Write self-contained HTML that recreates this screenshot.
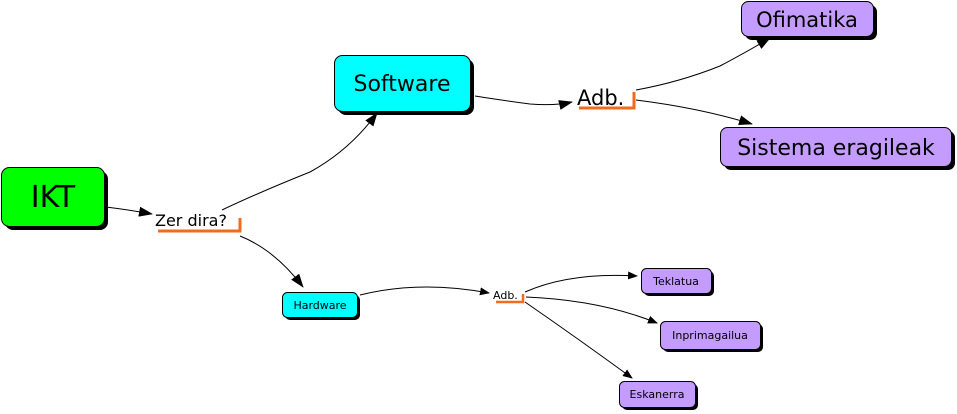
<!DOCTYPE html>
<html><head><meta charset="utf-8"><style>
html,body{margin:0;padding:0;background:#fff;}
svg{display:block;}
text{font-family:"DejaVu Sans","Liberation Sans",sans-serif;fill:#000;}
</style></head><body>
<svg width="957" height="414" viewBox="0 0 957 414" xmlns="http://www.w3.org/2000/svg">
<defs>
<marker id="a" markerWidth="10" markerHeight="8" refX="9" refY="4" orient="auto" markerUnits="userSpaceOnUse">
<path d="M0,0 L10,4 L0,8 Z" fill="#000"/></marker>
<marker id="b" markerWidth="14" markerHeight="10" refX="13" refY="5" orient="auto" markerUnits="userSpaceOnUse">
<path d="M0,0 L14,5 L0,10 Z" fill="#000"/></marker>
</defs>
<g fill="none" stroke="#000" stroke-width="1">
<path d="M106,207 Q130,210 152,214" marker-end="url(#b)"/>
<path d="M222,210 Q260,192 310,172 Q350,150 377,113" marker-end="url(#b)"/>
<path d="M240,236 Q275,250 303,287" marker-end="url(#b)"/>
<path d="M475,96 Q500,100 530,104 Q555,106 572,102" marker-end="url(#b)"/>
<path d="M636,90 Q680,82 720,66 Q750,50 770,38" marker-end="url(#b)"/>
<path d="M636,100 Q700,108 752,124" marker-end="url(#b)"/>
<path d="M360,295 Q420,280 489,293" marker-end="url(#a)"/>
<path d="M525,292 Q570,272 637,276" marker-end="url(#a)"/>
<path d="M526,297 Q600,300 657,323" marker-end="url(#a)"/>
<path d="M525,302 Q580,340 632,378" marker-end="url(#a)"/>
</g>
<!-- shadows -->
<g fill="#000">
<rect x="5" y="171" width="103" height="59" rx="8"/>
<rect x="338" y="59" width="136" height="56" rx="8"/>
<rect x="745" y="5" width="132" height="35" rx="7"/>
<rect x="724" y="131" width="231" height="39" rx="7"/>
<rect x="285" y="295" width="75" height="25" rx="5"/>
<rect x="644" y="271" width="70" height="25" rx="5"/>
<rect x="663" y="324" width="100" height="28" rx="5"/>
<rect x="622" y="384" width="76" height="26" rx="5"/>
</g>
<g stroke="#000" stroke-width="1">
<rect x="1.5" y="167.5" width="103" height="59" rx="8" fill="#00ff00"/>
<rect x="334.5" y="55.5" width="136" height="56" rx="8" fill="#00ffff"/>
<rect x="741.5" y="1.5" width="132" height="35" rx="7" fill="#c49cff"/>
<rect x="720.5" y="127.5" width="231" height="39" rx="7" fill="#c49cff"/>
<rect x="282.5" y="292.5" width="75" height="25" rx="5" fill="#00ffff"/>
<rect x="641.5" y="268.5" width="70" height="25" rx="5" fill="#c49cff"/>
<rect x="660.5" y="321.5" width="100" height="28" rx="5" fill="#c49cff"/>
<rect x="619.5" y="381.5" width="76" height="26" rx="5" fill="#c49cff"/>
</g>
<g text-anchor="middle">
<text x="53" y="207" font-size="30">IKT</text>
<text x="402" y="91" font-size="22">Software</text>
<text x="807" y="27" font-size="21">Ofimatika</text>
<text x="836" y="155" font-size="22">Sistema eragileak</text>
<text x="320" y="309" font-size="11">Hardware</text>
<text x="676" y="285" font-size="11">Teklatua</text>
<text x="710" y="339" font-size="11">Inprimagailua</text>
<text x="657" y="398" font-size="11">Eskanerra</text>
</g>
<text x="155" y="226" font-size="16">Zer dira?</text>
<text x="577" y="105" font-size="21">Adb.</text>
<text x="493" y="299" font-size="11">Adb.</text>
<g fill="none" stroke="#f26b1d" stroke-width="3">
<path d="M158,231 L240,231 L240,218"/>
<path d="M579,108 L634,108 L634,92"/>
<path d="M496,302 L523,302 L523,294" stroke-width="2.5"/>
</g>
</svg>
</body></html>
